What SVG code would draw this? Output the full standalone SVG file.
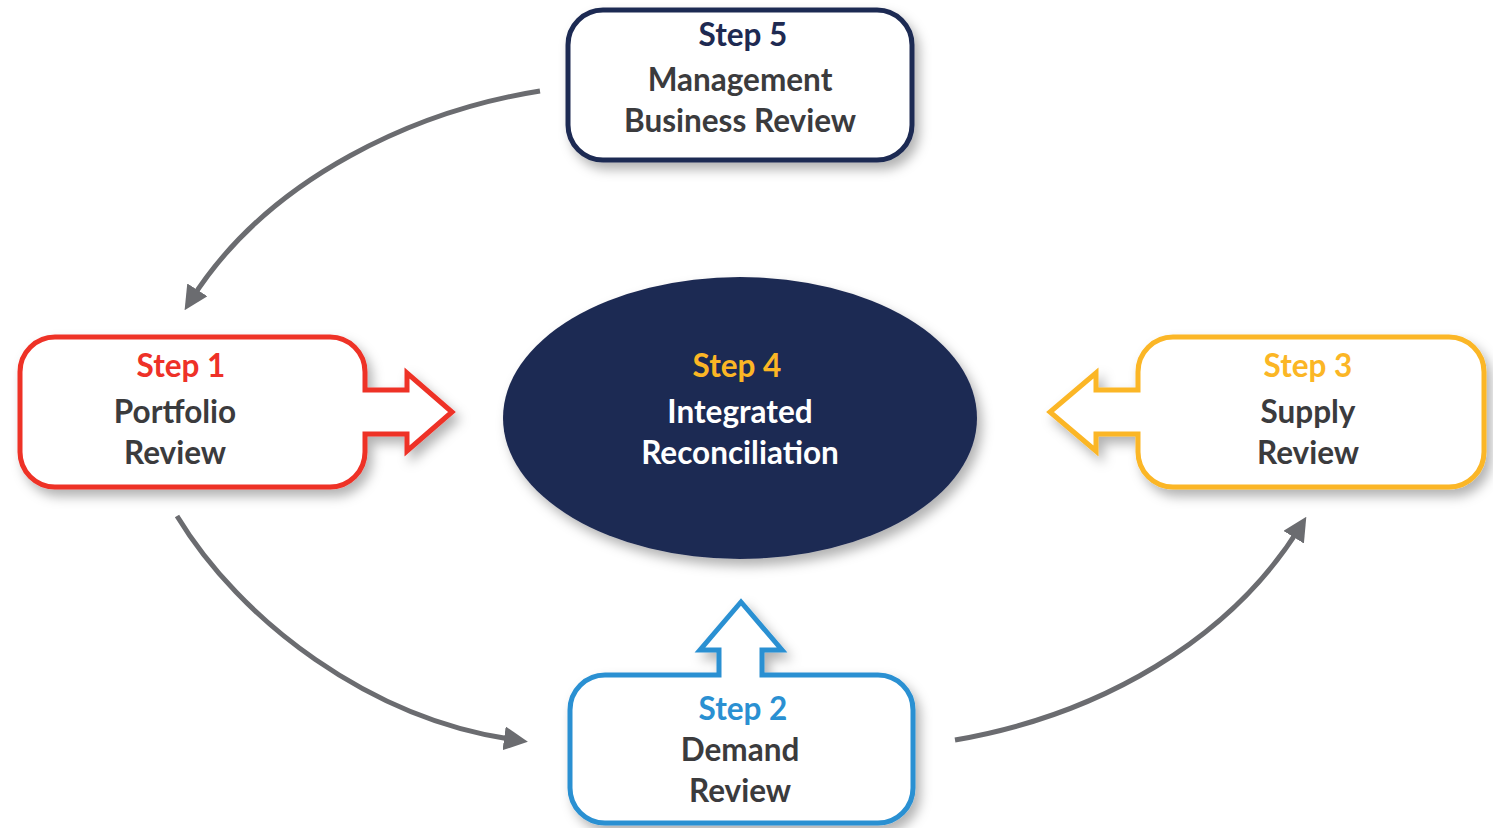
<svg xmlns="http://www.w3.org/2000/svg" width="1493" height="828" viewBox="0 0 1493 828">
<defs>
<filter id="sh" x="-20%" y="-20%" width="140%" height="150%">
<feDropShadow dx="5" dy="7" stdDeviation="6" flood-color="#000" flood-opacity="0.3"/>
</filter>
<marker id="ah" viewBox="0 0 10 10" refX="5" refY="5" markerWidth="4.8" markerHeight="4.8" orient="auto" markerUnits="strokeWidth">
<path d="M0,0 L10,5 L0,10 Z" fill="#6b6c70"/>
</marker>
</defs>
<style>
.t{font-family:Lato,"Open Sans","Liberation Sans",sans-serif;font-weight:bold;font-size:31.5px;text-anchor:middle}
.g{fill:#3b3b3d}
.box{fill:#fff;stroke-width:5;stroke-linejoin:miter;filter:url(#sh)}
.con{fill:none;stroke:#6b6c70;stroke-width:5;marker-end:url(#ah)}
</style>
<rect width="1493" height="828" fill="#fff"/>
<g id="connectors">
<path class="con" d="M540,91 C420,110 270,175 191,300"/>
<path class="con" d="M177,516 C240,620 370,720 516,740"/>
<path class="con" d="M955,740 C1100,715 1230,640 1300,527"/>
</g>
<g id="step4">
<ellipse cx="740" cy="418" rx="237" ry="141" fill="#1e2a52" filter="url(#sh)"/>
<text class="t" x="737" y="377" fill="#fbb625">Step 4</text>
<text class="t" x="740" y="423" fill="#fff">Integrated</text>
<text class="t" x="740" y="464" fill="#fff">Reconciliation</text>
</g>
<g id="step1">
<path class="box" stroke="#ee3128" d="M55,337 H330 A35,35 0 0 1 365,372 V390 H407 V373 L452,412 L407,451 V434 H365 V452 A35,35 0 0 1 330,487 H55 A35,35 0 0 1 20,452 V372 A35,35 0 0 1 55,337 Z"/>
<text class="t" x="181" y="377" fill="#ee3128">Step 1</text>
<text class="t g" x="175" y="423">Portfolio</text>
<text class="t g" x="175" y="464">Review</text>
</g>
<g id="step3">
<path class="box" stroke="#fbb625" d="M1173,337 H1449 A35,35 0 0 1 1484,372 V452 A35,35 0 0 1 1449,487 H1173 A35,35 0 0 1 1138,452 V434 H1096 V451 L1050,412 L1096,373 V390 H1138 V372 A35,35 0 0 1 1173,337 Z"/>
<text class="t" x="1308" y="377" fill="#fbb625">Step 3</text>
<text class="t g" x="1308" y="423">Supply</text>
<text class="t g" x="1308" y="464">Review</text>
</g>
<g id="step2">
<path class="box" stroke="#2a90d2" d="M605,675 H719 V650 H700 L741,602 L782,650 H762 V675 H878 A35,35 0 0 1 913,710 V788 A35,35 0 0 1 878,823 H605 A35,35 0 0 1 570,788 V710 A35,35 0 0 1 605,675 Z"/>
<text class="t" x="743" y="720" fill="#2a90d2">Step 2</text>
<text class="t g" x="740" y="761">Demand</text>
<text class="t g" x="740" y="802">Review</text>
</g>
<g id="step5">
<rect class="box" stroke="#1e2a52" x="568" y="10" width="344" height="150" rx="35"/>
<text class="t" x="743" y="46" fill="#1e2a52">Step 5</text>
<text class="t g" x="740" y="91">Management</text>
<text class="t g" x="740" y="132">Business Review</text>
</g>
</svg>
